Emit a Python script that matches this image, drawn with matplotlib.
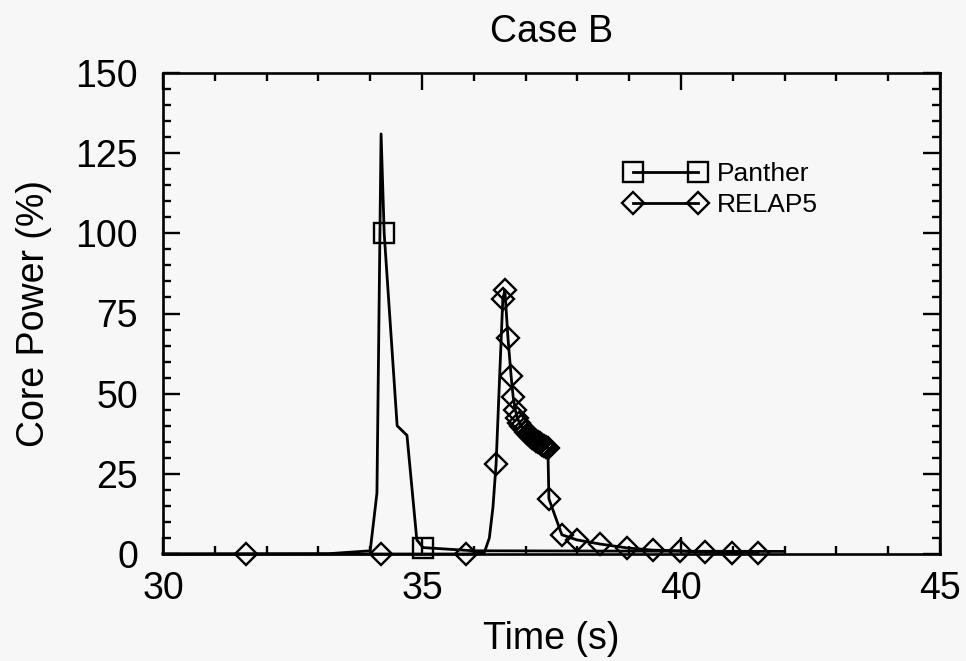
import matplotlib
matplotlib.use("Agg")
import matplotlib.pyplot as plt
from matplotlib.ticker import MultipleLocator

plt.rcParams['font.family'] = ['Liberation Sans', 'DejaVu Sans']

# Panther core power vs time
panther_t = [30.0, 33.2, 34.0, 34.13, 34.21, 34.27, 34.52, 34.71, 34.9, 35.02, 36.0, 42.0]
panther_p = [0.0, 0.1, 1.0, 19.0, 131.0, 100.0, 40.0, 37.0, 4.4, 2.0, 1.0, 0.8]
panther_marks = [5, 9]

# RELAP5 core power vs time
relap_t = [30.0, 31.6, 34.2, 35.85, 36.2, 36.3, 36.37, 36.43, 36.56, 36.6,
           36.66, 36.72, 36.76, 36.8, 36.84, 36.88, 36.92, 36.96, 37.0, 37.04,
           37.08, 37.12, 37.16, 37.2, 37.24, 37.28, 37.32, 37.36, 37.4, 37.43,
           37.45, 37.7, 37.99, 38.44, 38.96, 39.46, 39.98, 40.46, 40.98, 41.49]
relap_p = [0.0, 0.0, 0.0, 0.0, 0.3, 5.0, 14.6, 28.0, 79.5, 82.3,
           67.3, 55.5, 49.0, 45.0, 42.5, 41.0, 40.0, 39.0, 38.2, 37.5,
           36.9, 36.3, 35.8, 35.3, 34.9, 34.5, 34.1, 33.8, 33.5, 33.2,
           17.2, 6.0, 4.4, 3.1, 1.9, 1.2, 1.0, 0.5, 0.4, 0.3]
relap_marks = [1, 2, 3] + list(range(7, len(relap_t)))

bg = '#f7f7f7'
fig = plt.figure(figsize=(9.66, 6.61), dpi=100, facecolor=bg)
ax = fig.add_axes([163 / 966, 1 - 554 / 661, (940 - 163) / 966, (554 - 73) / 661])
ax.set_facecolor(bg)

ax.plot(panther_t, panther_p, color='black', lw=2.0, marker='s', ms=14,
        mfc='none', mec='black', mew=1.7, markevery=panther_marks,
        label='Panther', clip_on=False)
ax.plot(relap_t, relap_p, color='black', lw=2.0, marker='D', ms=11,
        mfc='none', mec='black', mew=1.7, markevery=relap_marks,
        label='RELAP5', clip_on=False)

ax.set_xlim(30, 45)
ax.set_ylim(0, 150)
ax.xaxis.set_major_locator(MultipleLocator(5))
ax.xaxis.set_minor_locator(MultipleLocator(1))
ax.yaxis.set_major_locator(MultipleLocator(25))
ax.yaxis.set_minor_locator(MultipleLocator(5))
ax.tick_params(which='both', direction='in', top=True, right=True, width=1.7)
ax.tick_params(which='major', length=12, labelsize=27)
ax.tick_params(axis='x', which='major', pad=12)
ax.tick_params(axis='y', which='major', pad=18)
ax.tick_params(which='minor', length=6)
for s in ax.spines.values():
    s.set_linewidth(1.9)

ax.set_title('Case B', fontsize=27, pad=22)
ax.set_xlabel('Time (s)', fontsize=27, labelpad=10)
ax.set_ylabel('Core Power (%)', fontsize=27, labelpad=17)

ax.legend(loc='upper left', bbox_to_anchor=(0.595, 0.815), frameon=False,
          fontsize=19, numpoints=2, handlelength=3.06, handletextpad=0.42,
          labelspacing=0.27, borderpad=0, borderaxespad=0)

fig.savefig('out.png', dpi=100, facecolor=bg)
